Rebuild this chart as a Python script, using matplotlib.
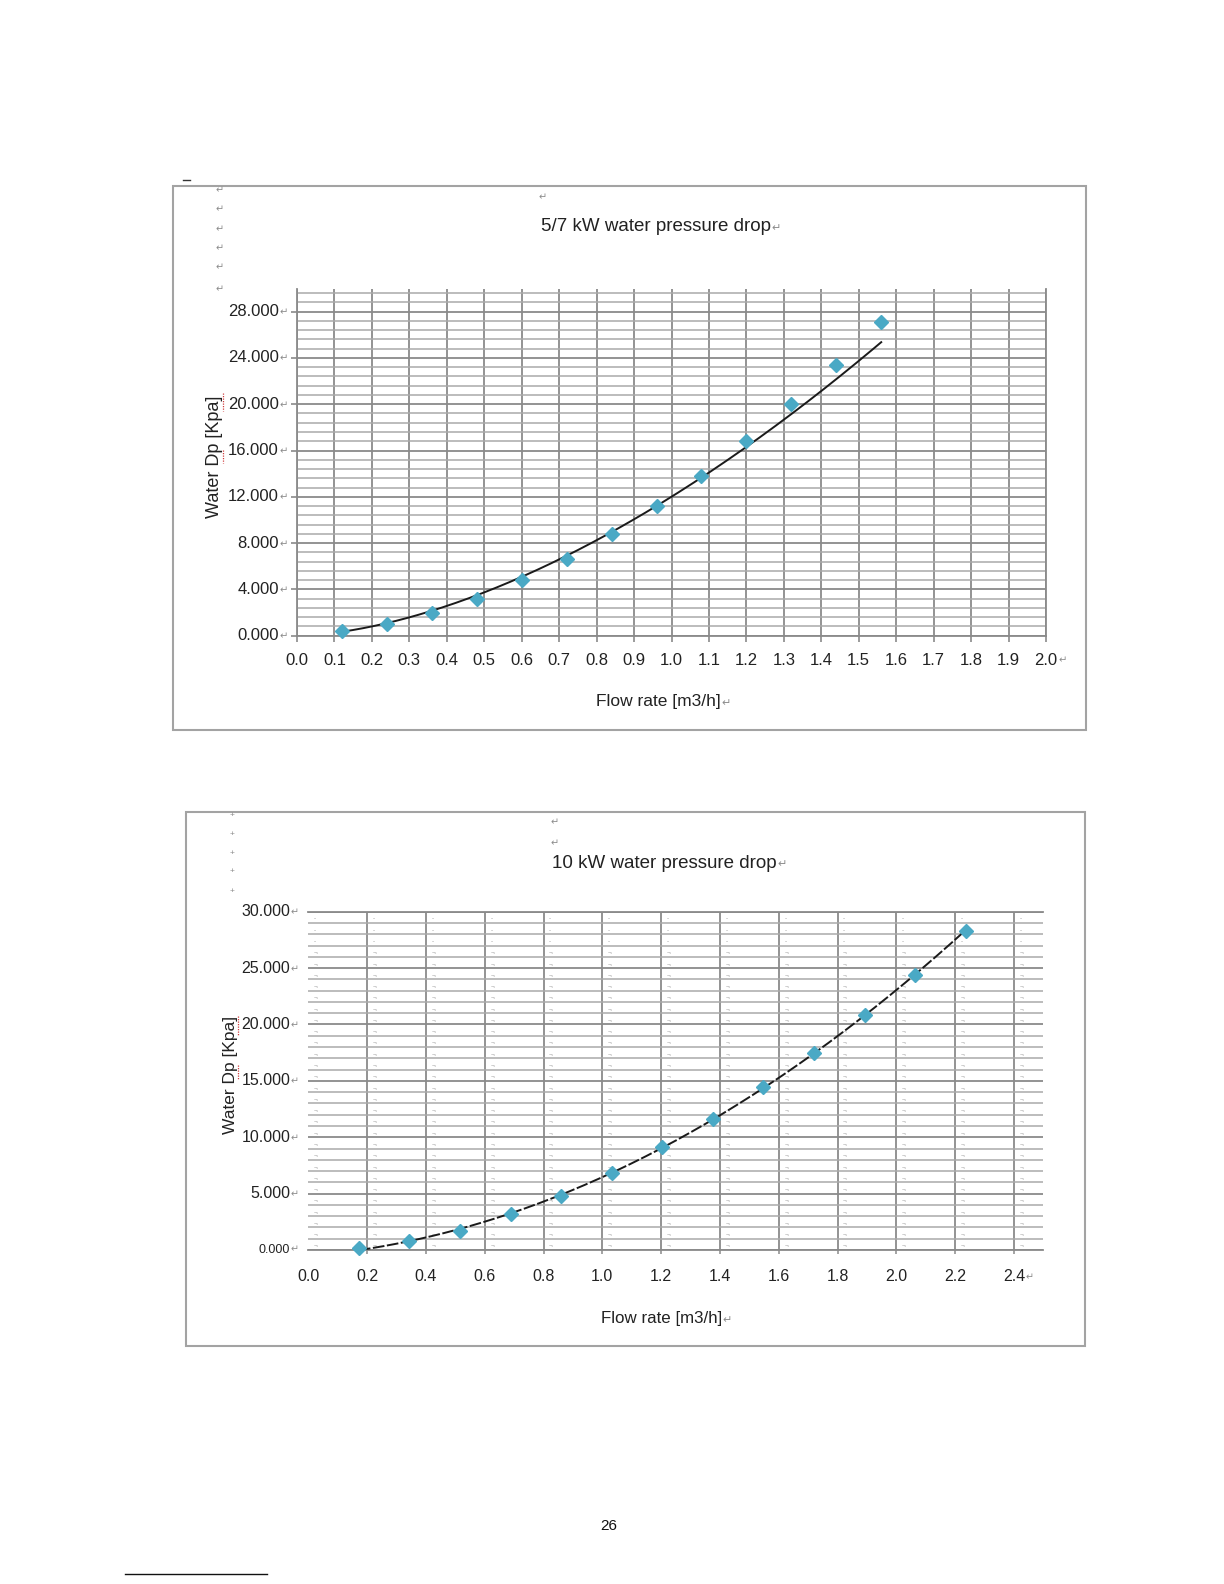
import numpy as np
import matplotlib
matplotlib.use('Agg')
import matplotlib.pyplot as plt
import matplotlib.transforms as mtransforms
from matplotlib.patches import Rectangle
from matplotlib.lines import Line2D

plt.rcParams['font.family'] = ['Liberation Sans', 'DejaVu Sans']

#-------------------- data --------------------#
# 5/7 kW unit
flow_57 = [0.12, 0.24, 0.36, 0.48, 0.60, 0.72, 0.84, 0.96, 1.08, 1.20, 1.32, 1.44, 1.56]
dp_57 = [0.41, 1.01, 1.94, 3.17, 4.81, 6.65, 8.79, 11.2, 13.82, 16.8, 20.0, 23.4, 27.1]
xticks_57 = [0.0, 0.1, 0.2, 0.3, 0.4, 0.5, 0.6, 0.7, 0.8, 0.9, 1.0,
             1.1, 1.2, 1.3, 1.4, 1.5, 1.6, 1.7, 1.8, 1.9, 2.0]
yticks_57 = [0, 4, 8, 12, 16, 20, 24, 28]

# 10 kW unit
flow_10 = [0.172, 0.344, 0.516, 0.688, 0.860, 1.032, 1.204, 1.376, 1.548, 1.720, 1.892, 2.064, 2.236]
dp_10 = [0.15, 0.80, 1.71, 3.16, 4.81, 6.80, 9.16, 11.64, 14.45, 17.5, 20.8, 24.4, 28.3]
xticks_10 = [0.0, 0.2, 0.4, 0.6, 0.8, 1.0, 1.2, 1.4, 1.6, 1.8, 2.0, 2.2, 2.4]
yticks_10 = [0, 5, 10, 15, 20, 25, 30]

title_57 = '5/7 kW water pressure drop'
title_10 = '10 kW water pressure drop'
xlab = 'Flow rate [m3/h]'
ylab = 'Water Dp [Kpa]'
RET = '\u21b5'   # Word paragraph mark

MARKER = '#4aa9c5'
GRID = '#8a8a8a'
GRID_MINOR = '#a9a9a9'
MARKGREY = '#8c8c8c'

W, H = 1224, 1584
fig = plt.figure(figsize=(W / 100, H / 100), dpi=100)


def fx(px):
    return px / W


def fy(py):
    return 1 - py / H


def axes_px(x0, y_top, x1, y_bot):
    return fig.add_axes([fx(x0), fy(y_bot), (x1 - x0) / W, (y_bot - y_top) / H])


def ret_mark(t, size=7):
    # little return arrow glued to the end of a text item
    fig.add_artist(plt.Annotation(RET, xy=(1, 0.12), xycoords=t, xytext=(0.5, 0),
                                  textcoords='offset points', fontsize=size,
                                  color=MARKGREY, ha='left', va='bottom'))


def power_fit(x, y):
    # Excel style power trendline, fitted in log-log space
    b, ln_a = np.polyfit(np.log(x), np.log(y), 1)
    xs = np.linspace(min(x), max(x), 200)
    return xs, np.exp(ln_a) * xs ** b


def poly_fit(x, y, deg=2):
    # Excel style polynomial trendline
    c = np.polyfit(x, y, deg)
    xs = np.linspace(min(x), max(x), 200)
    return xs, np.polyval(c, xs)


def tick_labels(ax, xticks, xlabels, yticks, ylabels, size, xpad, ypad, ysizes=None):
    tx = mtransforms.offset_copy(ax.get_xaxis_transform(), fig, y=-xpad, units='points')
    ty = mtransforms.offset_copy(ax.get_yaxis_transform(), fig, x=-ypad, units='points')
    xt = []
    for v, s in zip(xticks, xlabels):
        xt.append(ax.text(v, 0, s, transform=tx, ha='center', va='center',
                          fontsize=size, color='#222222'))
    ret_mark(xt[-1], size * 0.6)
    for i, (v, s) in enumerate(zip(yticks, ylabels)):
        fs = ysizes[i] if ysizes else size
        t = ax.text(0, v, s, transform=ty, ha='right', va='center',
                    fontsize=fs, color='#222222', clip_on=False)
        ret_mark(t, size * 0.6)


#------------------------------ 5/7 kW chart ------------------------------#
ax1 = axes_px(297, 288.5, 1046, 635.7)
ax1.set_xlim(0, 2.0)
ax1.set_ylim(0, 30)
ax1.set_xticks(xticks_57)
ax1.set_yticks(yticks_57)
ax1.set_yticks(np.arange(0, 29.7, 0.8), minor=True)
ax1.grid(axis='x', color=GRID, lw=1.3)
ax1.grid(axis='y', which='major', color=GRID, lw=1.3)
ax1.grid(axis='y', which='minor', color=GRID_MINOR, lw=1.1)
ax1.tick_params(which='both', labelleft=False, labelbottom=False, colors=GRID,
                direction='out', length=4, width=1.2)
ax1.tick_params(which='minor', length=0)
ax1.spines['top'].set_visible(False)
for s in ['left', 'right', 'bottom']:
    ax1.spines[s].set_color(GRID)
    ax1.spines[s].set_linewidth(1.3)
ax1.set_axisbelow(True)

xs, ys = power_fit(flow_57, dp_57)
ax1.plot(xs, ys, color='#1a1a1a', lw=1.4, zorder=3)
ax1.plot(flow_57, dp_57, ls='none', marker='D', ms=7.5, color=MARKER,
         mec=MARKER, zorder=4, clip_on=False)

tick_labels(ax1, xticks_57, [f'{v:.1f}' for v in xticks_57],
            yticks_57, [f'{v:.3f}' for v in yticks_57], 12, 17.5, 13)

#------------------------------ 10 kW chart -------------------------------#
ax2 = axes_px(308.3, 911.7, 1043.3, 1250)
ax2.set_xlim(0, 2.5)
ax2.set_ylim(0, 30)
ax2.set_xticks(xticks_10[1:])
ax2.set_yticks(yticks_10)
ax2.set_yticks(np.arange(0, 30, 1), minor=True)
ax2.grid(axis='x', color=GRID, lw=1.3)
ax2.grid(axis='y', which='major', color=GRID, lw=1.3)
ax2.grid(axis='y', which='minor', color=GRID_MINOR, lw=1.1)
ax2.tick_params(which='both', labelleft=False, labelbottom=False, colors=GRID,
                direction='out', length=3, width=1.1)
ax2.tick_params(axis='y', which='both', length=0)
for s in ['left', 'right']:
    ax2.spines[s].set_visible(False)
for s in ['top', 'bottom']:
    ax2.spines[s].set_color(GRID)
    ax2.spines[s].set_linewidth(1.3)
ax2.set_axisbelow(True)

# the stray Word tab marks that sit on every grid cell of this chart
mark_tr = mtransforms.offset_copy(ax2.transData, fig, x=4, y=1, units='points')
for gx in xticks_10:
    for gy in range(0, 30):
        ax2.text(gx, gy, '\u00ac' if gy < 27 else '-', transform=mark_tr,
                 fontsize=4.5, color='#8a8a8a', ha='left', va='bottom', zorder=2)

xs, ys = poly_fit(flow_10, dp_10)
ax2.plot(xs, ys, color='#1a1a1a', lw=1.4, ls=(0, (6, 1.3)), zorder=3)
ax2.plot(flow_10, dp_10, ls='none', marker='D', ms=7, color=MARKER,
         mec=MARKER, zorder=4, clip_on=False)

tick_labels(ax2, xticks_10, [f'{v:.1f}' for v in xticks_10],
            yticks_10, [f'{v:.3f}' for v in yticks_10], 11.5, 19, 13,
            ysizes=[9, 11.5, 11.5, 11.5, 11.5, 11.5, 11.5])

#---------------------------- titles and labels ----------------------------#
t = fig.text(fx(541), fy(226.7), title_57, fontsize=13.5, color='#222222', va='center')
ret_mark(t, 8)
t = fig.text(fx(552), fy(863), title_10, fontsize=13.5, color='#222222', va='center')
ret_mark(t, 8)
t = fig.text(fx(596), fy(702), xlab, fontsize=12.5, color='#222222', va='center')
ret_mark(t, 8)
t = fig.text(fx(601), fy(1319), xlab, fontsize=12.2, color='#222222', va='center')
ret_mark(t, 8)
fig.text(fx(215), fy(457), ylab, fontsize=13, color='#222222', rotation=90,
         ha='center', va='center')
fig.text(fx(231), fy(1075), ylab, fontsize=12.5, color='#222222', rotation=90,
         ha='center', va='center')

# red spell-check squiggles under "Dp" and "Kpa"
for x0, y0, y1 in [(223, 393, 411), (223, 450, 463), (238, 1016, 1036), (238, 1065, 1079)]:
    fig.add_artist(Line2D([fx(x0), fx(x0)], [fy(y0), fy(y1)], color='#d04040',
                          lw=0.9, ls=(0, (1, 1))))

# paragraph marks down the left side and above the titles
for py in [190, 209, 229, 248, 267, 289]:
    fig.text(fx(220), fy(py), RET, fontsize=7, color=MARKGREY, ha='center', va='center')
fig.text(fx(543), fy(197), RET, fontsize=7, color=MARKGREY, ha='center', va='center')
for py in [815.7, 834.3, 853.3, 871.7, 891.7]:
    fig.text(fx(231.7), fy(py), '+', fontsize=6, color=MARKGREY, ha='center', va='center')
for py in [822.7, 843.3]:
    fig.text(fx(555), fy(py), RET, fontsize=7, color=MARKGREY, ha='center', va='center')

# chart frames
fig.add_artist(Rectangle((fx(173), fy(730)), (1086 - 173) / W, (730 - 186) / H,
                         transform=fig.transFigure, fill=False, ec='#a3a3a3', lw=1.5))
fig.add_artist(Rectangle((fx(186), fy(1346)), (1085 - 186) / W, (1346 - 812) / H,
                         transform=fig.transFigure, fill=False, ec='#a3a3a3', lw=1.5))
fig.add_artist(Line2D([fx(183), fx(190)], [fy(180), fy(180)], color='#333333', lw=1))

# page number and footnote rule
fig.text(fx(609), fy(1526), '26', fontsize=11, color='#111111', ha='center', va='center')
fig.add_artist(Line2D([fx(125), fx(267)], [fy(1574), fy(1574)], color='#111111', lw=1))

fig.savefig('out.png', dpi=100, facecolor='white')
